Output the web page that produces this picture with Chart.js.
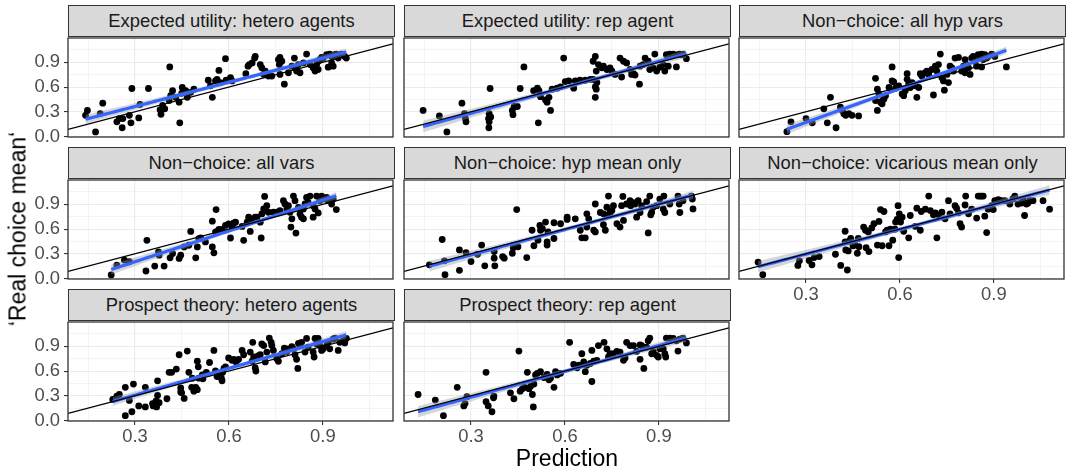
<!DOCTYPE html>
<html><head><meta charset="utf-8">
<script src="https://cdn.jsdelivr.net/npm/chart.js@4"></script>
<style>
html,body{margin:0;padding:0;background:#fff;}
#wrap{position:relative;width:1066px;height:470px;overflow:hidden;font-family:"Liberation Sans",Arial,sans-serif;}
.strip{position:absolute;box-sizing:border-box;background:#D9D9D9;border:1.3px solid #333;color:#1A1A1A;font-size:18.4px;display:flex;align-items:center;justify-content:center;white-space:nowrap;}
canvas{position:absolute;}
.title{position:absolute;color:#000;font-size:23px;line-height:1;white-space:nowrap;}
</style></head><body><div id="wrap"></div>
<script>
// ---------- data ----------
const PANEL_TITLES = ["Expected utility: hetero agents","Expected utility: rep agent","Non\u2212choice: all hyp vars",
  "Non\u2212choice: all vars","Non\u2212choice: hyp mean only","Non\u2212choice: vicarious mean only",
  "Prospect theory: hetero agents","Prospect theory: rep agent"];
const X_TITLE = "Prediction";
const Y_TITLE = "\u2018Real choice mean\u2018";
const X_MAJOR = [0.3,0.6,0.9];
const X_MINOR = [0.15,0.45,0.75,1.05];
const Y_MAJOR = [0.0,0.3,0.6,0.9];
const Y_MINOR = [0.15,0.45,0.75,1.05];
const X_MIN = 0.086, X_MAX = 1.124, Y_MIN = -0.005, Y_MAX = 1.195;

const euHetero = [[0.148,0.317],[0.142,0.258],[0.174,0.056],[0.197,0.405],[0.189,0.278],[0.242,0.179],[0.250,0.218],[0.259,0.107],[0.261,0.218],[0.282,0.258],[0.290,0.583],[0.287,0.167],[0.312,0.226],[0.316,0.389],[0.343,0.583],[0.380,0.325],[0.383,0.270],[0.388,0.377],[0.395,0.337],[0.411,0.845],[0.409,0.437],[0.414,0.496],[0.420,0.556],[0.430,0.476],[0.441,0.417],[0.443,0.167],[0.449,0.524],[0.451,0.595],[0.462,0.556],[0.467,0.476],[0.478,0.536],[0.488,0.575],[0.534,0.683],[0.541,0.615],[0.547,0.476],[0.557,0.675],[0.562,0.694],[0.568,0.802],[0.573,0.655],[0.589,0.944],[0.591,0.683],[0.605,0.714],[0.610,0.675],[0.654,0.762],[0.661,0.853],[0.665,0.873],[0.674,0.893],[0.682,0.952],[0.684,0.972],[0.700,0.873],[0.705,0.833],[0.711,0.754],[0.716,0.794],[0.726,0.734],[0.737,0.734],[0.758,0.933],[0.761,0.873],[0.763,0.960],[0.769,0.913],[0.763,0.754],[0.777,0.635],[0.790,0.774],[0.809,0.952],[0.811,0.833],[0.816,0.794],[0.822,0.873],[0.827,0.774],[0.838,0.893],[0.848,1.0],[0.869,0.833],[0.875,0.794],[0.880,0.873],[0.890,0.933],[0.896,0.960],[0.901,0.952],[0.912,0.992],[0.917,0.841],[0.922,1.0],[0.928,0.972],[0.933,0.853],[0.938,0.992],[0.949,0.952],[0.959,1.0],[0.970,0.972],[0.975,0.952],[0.801,0.853],[0.885,0.913],[0.859,0.873],[0.943,1.0],[0.928,0.893],[0.885,0.813]];
const euRep = [[0.147,0.317],[0.199,0.25],[0.223,0.056],[0.271,0.405],[0.279,0.278],[0.284,0.179],[0.282,0.218],[0.358,0.278],[0.356,0.218],[0.358,0.179],[0.357,0.107],[0.361,0.583],[0.363,0.238],[0.432,0.317],[0.434,0.266],[0.438,0.365],[0.448,0.365],[0.457,0.583],[0.469,0.845],[0.500,0.556],[0.512,0.587],[0.517,0.556],[0.515,0.167],[0.522,0.484],[0.538,0.444],[0.543,0.417],[0.549,0.476],[0.554,0.317],[0.559,0.575],[0.575,0.587],[0.586,0.603],[0.596,0.952],[0.601,0.667],[0.612,0.675],[0.628,0.587],[0.633,0.675],[0.648,0.683],[0.665,0.683],[0.681,0.694],[0.690,0.694],[0.697,0.476],[0.697,0.603],[0.700,0.575],[0.702,0.655],[0.690,0.913],[0.697,0.972],[0.700,0.794],[0.707,0.873],[0.718,0.833],[0.723,0.853],[0.734,0.813],[0.744,0.833],[0.750,0.794],[0.760,0.754],[0.776,0.952],[0.781,0.722],[0.787,0.913],[0.797,0.893],[0.808,0.813],[0.813,0.754],[0.819,0.762],[0.824,0.746],[0.838,0.635],[0.840,0.853],[0.850,0.873],[0.856,0.952],[0.866,0.913],[0.871,0.813],[0.882,0.833],[0.887,1.0],[0.893,0.794],[0.903,0.841],[0.914,0.873],[0.919,0.794],[0.924,0.992],[0.930,0.853],[0.935,1.0],[0.946,1.0],[0.956,0.845],[0.961,0.992],[0.967,1.0],[0.972,0.992],[0.977,1.0],[0.988,0.944]];
const ncAllHyp = [[0.239,0.06],[0.252,0.179],[0.300,0.218],[0.320,0.167],[0.357,0.337],[0.368,0.167],[0.378,0.476],[0.396,0.107],[0.410,0.357],[0.416,0.317],[0.421,0.278],[0.427,0.258],[0.437,0.278],[0.447,0.258],[0.468,0.25],[0.522,0.706],[0.528,0.317],[0.522,0.437],[0.528,0.575],[0.533,0.516],[0.538,0.417],[0.543,0.397],[0.544,0.437],[0.549,0.456],[0.554,0.496],[0.565,0.595],[0.575,0.845],[0.575,0.675],[0.580,0.663],[0.586,0.587],[0.596,0.615],[0.607,0.516],[0.612,0.496],[0.617,0.556],[0.623,0.762],[0.623,0.694],[0.628,0.635],[0.633,0.595],[0.639,0.655],[0.649,0.615],[0.654,0.476],[0.660,0.595],[0.665,0.762],[0.670,0.734],[0.681,0.774],[0.686,0.794],[0.692,0.754],[0.702,0.813],[0.707,0.504],[0.713,0.853],[0.718,0.794],[0.723,0.873],[0.729,1.0],[0.734,0.714],[0.739,0.675],[0.742,0.563],[0.750,0.754],[0.755,0.655],[0.760,0.853],[0.766,0.833],[0.771,0.794],[0.776,0.952],[0.787,0.96],[0.797,0.794],[0.803,0.853],[0.808,0.933],[0.813,0.873],[0.819,0.833],[0.824,0.754],[0.829,0.952],[0.834,0.972],[0.840,0.913],[0.845,0.853],[0.850,0.992],[0.856,0.972],[0.861,1.0],[0.866,0.933],[0.871,0.992],[0.877,0.952],[0.882,0.972],[0.893,1.0],[0.903,0.972],[0.940,0.845],[0.861,0.845],[0.808,0.774]];
const ncAll = [[0.224,0.044],[0.242,0.164],[0.266,0.224],[0.282,0.204],[0.338,0.464],[0.335,0.092],[0.363,0.152],[0.375,0.324],[0.377,0.284],[0.393,0.152],[0.412,0.252],[0.420,0.304],[0.441,0.244],[0.446,0.284],[0.457,0.384],[0.472,0.404],[0.478,0.572],[0.494,0.252],[0.499,0.384],[0.504,0.484],[0.510,0.492],[0.525,0.444],[0.547,0.384],[0.547,0.696],[0.552,0.312],[0.557,0.564],[0.559,0.836],[0.562,0.572],[0.568,0.596],[0.578,0.596],[0.589,0.644],[0.599,0.664],[0.605,0.492],[0.610,0.624],[0.615,0.672],[0.621,0.684],[0.642,0.632],[0.647,0.464],[0.658,0.684],[0.663,0.744],[0.668,0.572],[0.674,0.724],[0.684,0.744],[0.689,0.744],[0.700,0.684],[0.703,0.492],[0.705,0.784],[0.711,0.844],[0.714,0.996],[0.716,0.824],[0.721,0.884],[0.726,0.804],[0.742,0.804],[0.753,0.804],[0.763,0.824],[0.774,0.944],[0.779,0.904],[0.785,0.844],[0.790,0.884],[0.795,0.804],[0.798,0.624],[0.806,1.0],[0.811,0.944],[0.814,0.552],[0.822,0.864],[0.827,0.784],[0.832,0.744],[0.838,0.844],[0.843,0.904],[0.848,0.984],[0.853,0.924],[0.859,1.0],[0.869,0.884],[0.875,0.844],[0.880,1.0],[0.885,0.796],[0.890,0.944],[0.896,1.0],[0.901,0.964],[0.912,0.984],[0.917,0.944],[0.928,0.904],[0.943,0.836],[0.933,0.964],[0.838,0.724],[0.801,0.724],[0.869,0.744]];
const ncHypMean = [[0.167,0.167],[0.208,0.474],[0.215,0.215],[0.217,0.048],[0.263,0.347],[0.263,0.1],[0.284,0.315],[0.300,0.207],[0.321,0.295],[0.334,0.406],[0.344,0.155],[0.374,0.327],[0.374,0.247],[0.376,0.155],[0.401,0.267],[0.406,0.247],[0.432,0.307],[0.435,0.375],[0.446,0.837],[0.450,0.386],[0.478,0.255],[0.495,0.586],[0.501,0.398],[0.514,0.466],[0.520,0.645],[0.522,0.586],[0.528,0.606],[0.538,0.685],[0.543,0.406],[0.543,0.446],[0.546,0.566],[0.565,0.677],[0.565,0.486],[0.586,0.665],[0.607,0.717],[0.607,0.745],[0.633,0.725],[0.649,0.586],[0.654,0.494],[0.665,0.494],[0.670,0.625],[0.670,0.785],[0.676,0.725],[0.692,0.586],[0.697,0.904],[0.697,0.566],[0.713,0.801],[0.723,0.653],[0.729,0.586],[0.734,0.865],[0.739,1.0],[0.744,0.801],[0.750,0.825],[0.755,0.884],[0.766,0.665],[0.776,0.625],[0.781,0.884],[0.785,0.996],[0.787,0.705],[0.797,0.904],[0.808,0.944],[0.810,0.884],[0.816,0.924],[0.824,0.904],[0.829,0.745],[0.834,0.944],[0.840,0.801],[0.845,0.884],[0.861,0.932],[0.866,0.554],[0.871,1.0],[0.877,0.801],[0.882,0.865],[0.893,0.884],[0.903,0.964],[0.914,0.845],[0.916,1.0],[0.919,0.801],[0.935,0.904],[0.961,1.0],[0.965,0.904],[0.967,0.801],[0.977,0.944],[1.004,1.0],[1.007,0.964],[1.009,0.845],[0.874,0.773],[0.734,0.765],[0.723,0.785]];
const ncVicMean = [[0.147,0.199],[0.162,0.048],[0.274,0.159],[0.279,0.215],[0.310,0.219],[0.319,0.167],[0.326,0.255],[0.342,0.267],[0.394,0.295],[0.411,0.159],[0.425,0.574],[0.425,0.446],[0.427,0.347],[0.432,0.104],[0.435,0.335],[0.438,0.454],[0.443,0.486],[0.450,0.398],[0.457,0.406],[0.464,0.307],[0.467,0.486],[0.469,0.386],[0.484,0.625],[0.490,0.586],[0.492,0.375],[0.499,0.566],[0.501,0.327],[0.510,0.614],[0.517,0.665],[0.528,0.406],[0.533,0.693],[0.538,0.837],[0.543,0.398],[0.549,0.813],[0.554,0.566],[0.559,0.586],[0.565,0.398],[0.570,0.598],[0.577,0.466],[0.584,0.598],[0.586,0.685],[0.591,0.717],[0.594,0.884],[0.596,0.255],[0.598,0.785],[0.602,0.685],[0.607,0.745],[0.612,0.574],[0.628,0.494],[0.633,0.765],[0.649,0.633],[0.654,0.853],[0.665,0.586],[0.668,0.813],[0.681,0.841],[0.692,1.0],[0.697,0.825],[0.707,0.773],[0.713,0.797],[0.718,0.494],[0.723,0.773],[0.734,0.805],[0.744,0.725],[0.755,0.944],[0.760,0.785],[0.776,0.884],[0.781,0.853],[0.787,0.797],[0.792,0.665],[0.797,0.625],[0.808,0.892],[0.810,1.0],[0.819,0.785],[0.829,0.841],[0.845,0.733],[0.850,1.0],[0.856,1.0],[0.861,1.0],[0.866,1.0],[0.871,0.757],[0.877,0.558],[0.882,0.841],[0.893,0.884],[0.898,0.837],[0.903,0.944],[0.914,0.956],[0.924,0.944],[0.935,0.944],[0.951,0.904],[0.967,1.0],[0.977,0.904],[0.988,0.916],[0.998,0.765],[1.004,0.904],[1.009,0.916],[1.014,0.944],[1.025,0.944],[1.057,0.944],[1.078,0.841],[0.961,0.968],[0.993,0.96]];
const ptHetero = [[0.229,0.257],[0.242,0.296],[0.250,0.316],[0.269,0.403],[0.269,0.059],[0.282,0.245],[0.290,0.107],[0.295,0.443],[0.312,0.178],[0.333,0.403],[0.333,0.166],[0.356,0.206],[0.358,0.178],[0.367,0.237],[0.369,0.166],[0.372,0.482],[0.372,0.304],[0.377,0.217],[0.402,0.265],[0.409,0.585],[0.417,0.585],[0.432,0.625],[0.441,0.798],[0.446,0.395],[0.446,0.348],[0.449,0.336],[0.457,0.269],[0.467,0.842],[0.472,0.585],[0.481,0.403],[0.483,0.514],[0.488,0.356],[0.494,0.403],[0.499,0.375],[0.499,0.719],[0.502,0.652],[0.504,0.514],[0.515,0.553],[0.517,0.506],[0.528,0.585],[0.538,0.704],[0.552,0.850],[0.557,0.601],[0.562,0.534],[0.568,0.573],[0.576,0.514],[0.578,0.482],[0.580,0.585],[0.584,0.632],[0.589,0.652],[0.599,0.759],[0.610,0.731],[0.615,0.743],[0.623,0.711],[0.631,0.743],[0.642,0.850],[0.647,0.798],[0.668,0.830],[0.674,0.719],[0.676,0.949],[0.679,0.771],[0.684,0.640],[0.686,0.601],[0.693,0.783],[0.700,0.798],[0.705,0.929],[0.711,0.909],[0.716,0.711],[0.721,0.830],[0.729,1.0],[0.735,0.949],[0.737,0.909],[0.742,0.850],[0.753,0.751],[0.758,0.719],[0.769,0.810],[0.777,0.877],[0.785,0.838],[0.790,0.870],[0.801,0.897],[0.806,0.870],[0.811,0.798],[0.816,0.743],[0.820,0.632],[0.822,0.937],[0.827,0.909],[0.832,0.949],[0.843,0.830],[0.848,0.996],[0.853,0.889],[0.869,0.830],[0.875,0.996],[0.880,0.929],[0.885,0.996],[0.890,0.909],[0.896,0.850],[0.901,0.870],[0.912,0.909],[0.917,0.949],[0.922,0.870],[0.933,0.988],[0.938,1.0],[0.949,0.850],[0.954,0.949],[0.965,0.968],[0.970,0.941],[0.975,0.996],[0.872,0.771]];
const ptRep = [[0.131,0.316],[0.186,0.249],[0.212,0.059],[0.256,0.403],[0.277,0.178],[0.281,0.206],[0.287,0.289],[0.348,0.585],[0.348,0.229],[0.355,0.178],[0.367,0.107],[0.372,0.277],[0.373,0.296],[0.426,0.336],[0.437,0.265],[0.453,0.842],[0.457,0.356],[0.464,0.387],[0.471,0.403],[0.480,0.585],[0.485,0.387],[0.490,0.415],[0.496,0.316],[0.499,0.166],[0.501,0.443],[0.506,0.553],[0.512,0.573],[0.522,0.593],[0.533,0.522],[0.543,0.561],[0.549,0.494],[0.554,0.514],[0.565,0.403],[0.570,0.593],[0.575,0.553],[0.586,0.573],[0.615,0.949],[0.628,0.680],[0.639,0.640],[0.644,0.672],[0.654,0.810],[0.660,0.711],[0.665,0.593],[0.670,0.672],[0.681,0.692],[0.686,0.474],[0.686,0.850],[0.692,0.719],[0.702,0.731],[0.707,0.909],[0.725,0.949],[0.734,0.870],[0.739,0.771],[0.744,0.810],[0.755,0.810],[0.766,0.838],[0.776,0.830],[0.787,0.731],[0.792,0.759],[0.797,0.949],[0.808,0.909],[0.819,0.909],[0.829,0.838],[0.840,0.743],[0.845,0.909],[0.852,0.632],[0.861,0.889],[0.866,0.968],[0.871,1.0],[0.877,0.810],[0.882,0.838],[0.893,0.791],[0.898,0.771],[0.903,0.870],[0.914,0.870],[0.919,0.810],[0.922,0.771],[0.924,1.0],[0.935,1.0],[0.946,0.996],[0.961,0.842],[0.967,0.988],[0.977,1.0],[0.988,0.941],[0.840,0.917],[0.956,0.968]];

const PANEL_DATA = [euHetero, euRep, ncAllHyp, ncAll, ncHypMean, ncVicMean, ptHetero, ptRep];

// ---------- layout / style ----------
const COL_LEFT = [68, 404, 739], ROW_TOP = [36, 178, 320];
const PW = 327, PH = 101, STRIP_H = 31, AX_L = 60, AX_B = 40, PAD = 2;
const FONT = '"Liberation Sans", Arial, sans-serif';
const X_GRID = X_MAJOR.concat(X_MINOR).sort((a,b)=>a-b);
const Y_GRID = Y_MAJOR.concat(Y_MINOR).sort((a,b)=>a-b);
const isIn = (v, arr) => arr.some(m => Math.abs(m - v) < 1e-6);

function lmBand(pts){
  const n = pts.length; let mx=0, my=0;
  pts.forEach(p=>{mx+=p[0]; my+=p[1];}); mx/=n; my/=n;
  let sxx=0, sxy=0; pts.forEach(p=>{sxx+=(p[0]-mx)**2; sxy+=(p[0]-mx)*(p[1]-my);});
  const b = sxy/sxx, a = my - b*mx;
  let sse=0; pts.forEach(p=>{const r=p[1]-(a+b*p[0]); sse+=r*r;});
  const s = Math.sqrt(sse/(n-2)), t = 1.984;
  const xs = pts.map(p=>p[0]); const lo = Math.min(...xs), hi = Math.max(...xs);
  const fit=[], up=[], dn=[];
  for(let k=0;k<80;k++){
    const x = lo + (hi-lo)*k/79, yh = a + b*x;
    const se = s*Math.sqrt(1/n + (x-mx)**2/sxx);
    fit.push({x, y:yh}); up.push({x, y:yh+t*se}); dn.push({x, y:yh-t*se});
  }
  return {fit, up, dn};
}

const borderPlugin = {
  id: 'panelBorder',
  afterDraw(chart){
    const {ctx, chartArea:a} = chart;
    ctx.save(); ctx.strokeStyle = '#333333'; ctx.lineWidth = 1.3;
    ctx.strokeRect(a.left, a.top, a.right - a.left, a.bottom - a.top);
    ctx.restore();
  }
};

const wrap = document.getElementById('wrap');
PANEL_DATA.forEach((pts, i) => {
  const r = Math.floor(i/3), c = i%3;
  const showY = c === 0, showX = i >= 5;
  const strip = document.createElement('div');
  strip.className = 'strip';
  strip.style.left = COL_LEFT[c] + 'px'; strip.style.top = (ROW_TOP[r] - STRIP_H) + 'px';
  strip.style.width = PW + 'px'; strip.style.height = (STRIP_H + 1) + 'px';
  strip.textContent = PANEL_TITLES[i];
  wrap.appendChild(strip);

  const cv = document.createElement('canvas');
  const W = AX_L + PW + PAD, H = PAD + PH + AX_B;
  cv.width = W; cv.height = H;
  cv.style.width = W + 'px'; cv.style.height = H + 'px';
  cv.style.left = (COL_LEFT[c] - AX_L) + 'px'; cv.style.top = (ROW_TOP[r] - PAD) + 'px';
  wrap.appendChild(cv);

  const band = lmBand(pts);
  const gridOpts = (MAJ, show) => ({
    color: '#EBEBEB',
    lineWidth: ctx => isIn(ctx.tick.value, MAJ) ? 1.1 : 0.55,
    drawTicks: show, tickLength: 4,
    tickColor: ctx => isIn(ctx.tick.value, MAJ) ? '#333333' : 'rgba(0,0,0,0)',
    tickWidth: 1.1
  });
  new Chart(cv, {
    type: 'scatter',
    data: { datasets: [
      { type:'line', data:[{x:X_MIN,y:X_MIN},{x:X_MAX,y:X_MAX}], borderColor:'#000000', borderWidth:1.3, pointRadius:0, fill:false, order:0 },
      { type:'line', data:band.fit, borderColor:'#3366FF', borderWidth:3.2, pointRadius:0, fill:false, order:1 },
      { type:'line', data:band.dn, borderColor:'rgba(0,0,0,0)', borderWidth:0, pointRadius:0, fill:false, order:2 },
      { type:'line', data:band.up, borderColor:'rgba(0,0,0,0)', borderWidth:0, pointRadius:0, fill:'-1', backgroundColor:'rgba(153,153,153,0.4)', order:2 },
      { type:'scatter', data:pts.map(p=>({x:p[0], y:p[1]})), pointRadius:3.4, pointBackgroundColor:'#000000', pointBorderWidth:0, order:3 }
    ]},
    options: {
      responsive:false, animation:false, devicePixelRatio:1, events:[],
      layout:{ padding:{ top:PAD, right:PAD, left:0, bottom:0 } },
      plugins:{ legend:{display:false}, tooltip:{enabled:false} },
      scales:{
        x:{ type:'linear', min:X_MIN, max:X_MAX,
            afterBuildTicks: s => { s.ticks = X_GRID.map(v=>({value:v})); },
            afterFit: s => { s.height = AX_B; s.paddingLeft = 0; s.paddingRight = 0; },
            ticks:{ display:showX, autoSkip:false, maxRotation:0, minRotation:0, padding:1, color:'#4D4D4D',
                    font:{family:FONT, size:18.4},
                    callback: v => isIn(v, X_MAJOR) ? v.toFixed(1) : '' },
            grid: gridOpts(X_MAJOR, showX), border:{display:false} },
        y:{ type:'linear', min:Y_MIN, max:Y_MAX,
            afterBuildTicks: s => { s.ticks = Y_GRID.map(v=>({value:v})); },
            afterFit: s => { s.width = AX_L; s.paddingTop = 0; s.paddingBottom = 0; },
            ticks:{ display:showY, autoSkip:false, padding:4, color:'#4D4D4D',
                    font:{family:FONT, size:18.4},
                    callback: v => isIn(v, Y_MAJOR) ? v.toFixed(1) : '' },
            grid: gridOpts(Y_MAJOR, showY), border:{display:false} }
      }
    },
    plugins:[borderPlugin]
  });
});

const xt = document.createElement('div');
xt.className = 'title'; xt.textContent = X_TITLE;
xt.style.left = '567px'; xt.style.top = '458px'; xt.style.transform = 'translate(-50%,-50%)';
wrap.appendChild(xt);
const yt = document.createElement('div');
yt.className = 'title'; yt.textContent = Y_TITLE;
yt.style.left = '17.5px'; yt.style.top = '229px'; yt.style.transform = 'translate(-50%,-50%) rotate(-90deg)';
wrap.appendChild(yt);
</script></body></html>
